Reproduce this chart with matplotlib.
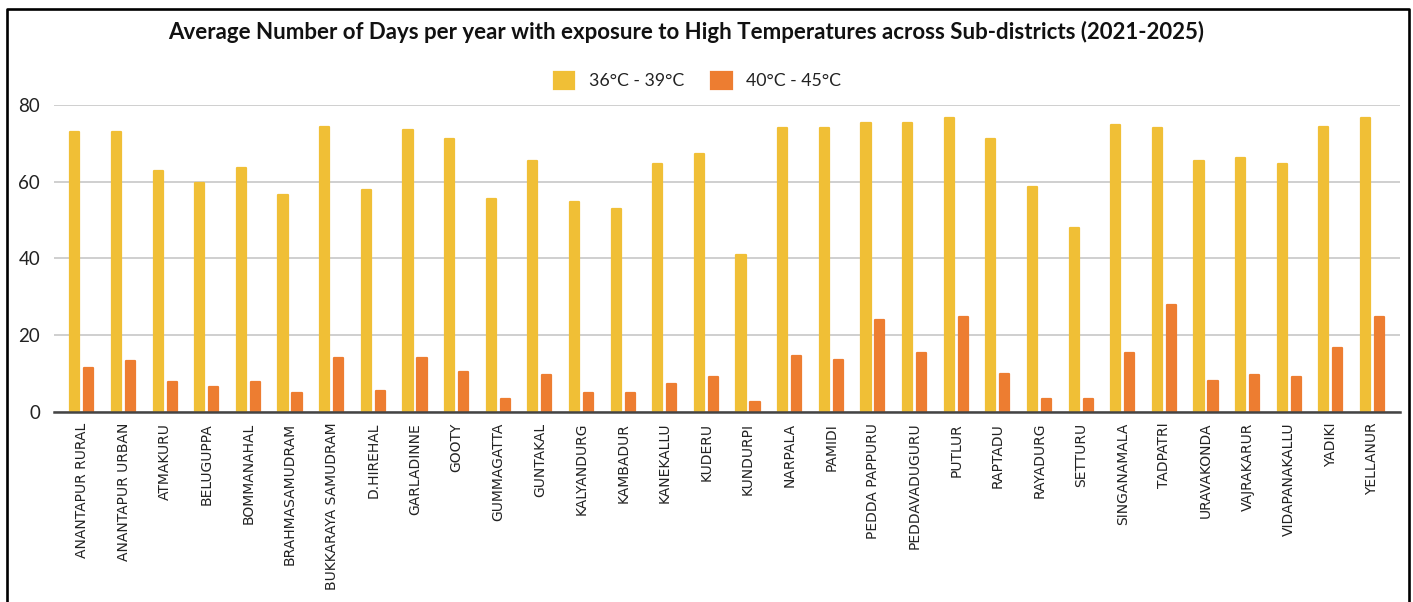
import matplotlib
matplotlib.use('Agg')
import matplotlib.pyplot as plt
from matplotlib.lines import Line2D
import numpy as np

YELLOW, ORANGE, GRID, AXIS = '#F0BF36', '#ED7D31', '#CCCCCC', '#444444'

subdistricts = [
    'ANANTAPUR RURAL', 'ANANTAPUR URBAN', 'ATMAKURU', 'BELUGUPPA', 'BOMMANAHAL',
    'BRAHMASAMUDRAM', 'BUKKARAYA SAMUDRAM', 'D.HIREHAL', 'GARLADINNE', 'GOOTY',
    'GUMMAGATTA', 'GUNTAKAL', 'KALYANDURG', 'KAMBADUR', 'KANEKALLU', 'KUDERU',
    'KUNDURPI', 'NARPALA', 'PAMIDI', 'PEDDA PAPPURU', 'PEDDAVADUGURU', 'PUTLUR',
    'RAPTADU', 'RAYADURG', 'SETTURU', 'SINGANAMALA', 'TADPATRI', 'URAVAKONDA',
    'VAJRAKARUR', 'VIDAPANAKALLU', 'YADIKI', 'YELLANUR']
days_36_39 = [72.9, 72.9, 62.8, 59.6, 63.6, 56.5, 74.3, 57.9, 73.5, 71.2,
              55.5, 65.4, 54.7, 52.8, 64.5, 67.2, 40.8, 73.9, 73.9, 75.3,
              75.3, 76.6, 71.2, 58.7, 48.0, 74.8, 73.9, 65.4, 66.3, 64.5,
              74.3, 76.6]
days_40_45 = [11.3, 13.1, 7.7, 6.4, 7.7, 5.0, 13.9, 5.5, 13.9, 10.4,
              3.2, 9.5, 5.0, 5.0, 7.2, 9.1, 2.4, 14.4, 13.5, 23.8,
              15.2, 24.6, 9.9, 3.2, 3.2, 15.2, 27.8, 8.1, 9.5, 9.1,
              16.6, 24.6]
series_labels = ['36°C - 39°C', '40°C - 45°C']
yticks = [0, 20, 40, 60, 80]

W, H = 1413, 602
fig = plt.figure(figsize=(W / 100, H / 100), dpi=100)
ax = fig.add_axes([54 / W, 1 - 411.7 / H, (1400 - 54) / W, (411.7 - 105) / H])

x = np.arange(len(subdistricts))
bw, off = 0.22, 0.168
# same-colour edge with round joins -> slightly rounded bar tops
b1 = ax.bar(x - off, days_36_39, bw, color=YELLOW, edgecolor=YELLOW, lw=1.6,
            joinstyle='round', label=series_labels[0], zorder=3)
b2 = ax.bar(x + off, days_40_45, bw, color=ORANGE, edgecolor=ORANGE, lw=1.6,
            joinstyle='round', label=series_labels[1], zorder=3)

ax.set_xlim(-0.67, len(subdistricts) - 1 + 0.66)
ax.set_ylim(0, 80)
ax.set_yticks(yticks)
ax.set_yticklabels([str(v) for v in yticks], family='Lato', fontsize=13.5, color='#222222')
ax.set_xticks(x)
ax.set_xticklabels(subdistricts, rotation=90, family='DejaVu Sans', fontsize=10,
                   color='#222222', va='top')
ax.tick_params(axis='both', length=0)
ax.tick_params(axis='y', pad=10)
ax.tick_params(axis='x', pad=8)
ax.grid(axis='y', color=GRID, lw=1.3, zorder=0)
for s in ('top', 'right', 'left'):
    ax.spines[s].set_visible(False)
ax.spines['bottom'].set_color(AXIS)
ax.spines['bottom'].set_linewidth(1.8)
ax.spines['bottom'].set_zorder(4)

fig.text(686.5 / W, 1 - 32 / H, 'Average Number of Days per year with exposure to High '
         'Temperatures across Sub-districts (2021-2025)', ha='center', va='center',
         family='Lato', fontweight='bold', fontsize=16, color='#111111')

fig.legend(handles=[b1, b2], labels=series_labels, loc='center',
           bbox_to_anchor=(697.5 / W, 1 - 80.5 / H), ncol=2, frameon=False,
           prop={'family': 'Lato', 'size': 12.8}, handlelength=1.15, handleheight=1.15,
           handletextpad=0.82, columnspacing=1.55, labelcolor='#222222')

# frame around the figure (left, top, right)
fig.add_artist(Line2D([7 / W, 7 / W, 1408.7 / W, 1408.7 / W], [0, 1 - 9 / H, 1 - 9 / H, 0],
                      transform=fig.transFigure, color='black', lw=1.9))

fig.savefig('out.png', dpi=100, facecolor='white')
